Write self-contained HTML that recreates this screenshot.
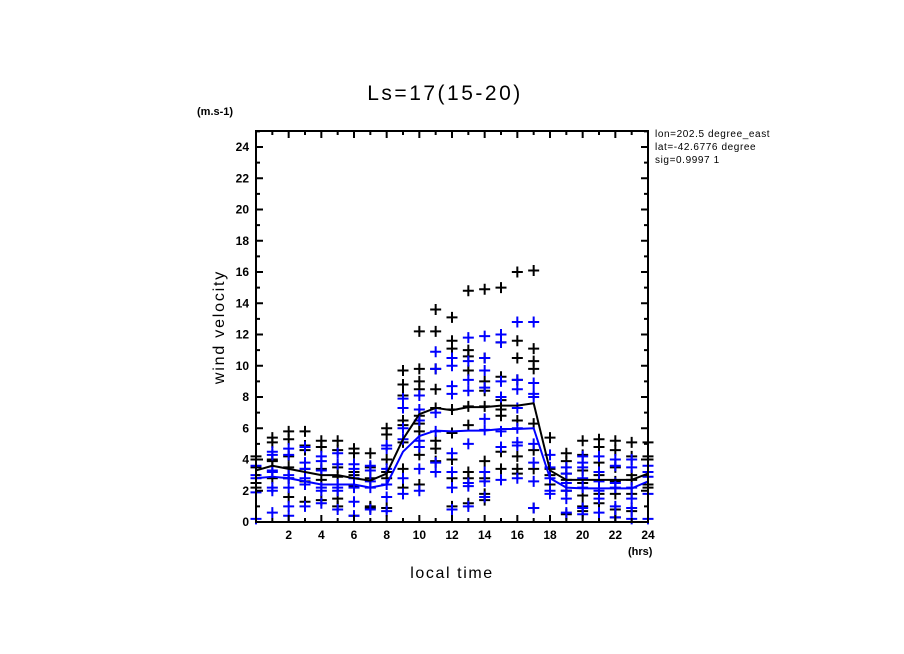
<!DOCTYPE html>
<html><head><meta charset="utf-8"><style>
html,body{margin:0;padding:0;background:#fff;}
svg{display:block;font-family:"Liberation Sans",sans-serif;}
</style></head><body>
<svg id="chart" width="904" height="654" viewBox="0 0 904 654" xmlns="http://www.w3.org/2000/svg">
<text x="445" y="100" font-size="21" letter-spacing="2.5" text-anchor="middle">Ls=17(15-20)</text>
<text x="197" y="115" font-size="11" font-weight="bold">(m.s-1)</text>
<text x="628" y="555" font-size="11" font-weight="bold">(hrs)</text>
<text x="452" y="578" font-size="16" letter-spacing="1.6" text-anchor="middle">local time</text>
<text x="224" y="327" font-size="16" letter-spacing="1.8" text-anchor="middle" transform="rotate(-90 224 327)">wind velocity</text>
<svg x="654" y="124" width="124" height="50" overflow="hidden">
<text x="1" y="13" font-size="10" letter-spacing="0.6">lon=202.5 degree_east</text>
<text x="1" y="26" font-size="10" letter-spacing="0.6">lat=-42.6776 degree</text>
<text x="1" y="39" font-size="10" letter-spacing="0.6">sig=0.9997 1</text>
</svg>
<g id="marks"></g>
<g id="axes"></g>
</svg>
<script>
const hours=[0,1,2,3,4,5,6,7,8,9,10,11,12,13,14,15,16,17,18,19,20,21,22,23,24];
const blackPts=[
[4.2,4.0,3.5,2.5,2.2],
[5.4,5.1,4.0,3.9,2.8],
[5.8,5.3,4.2,3.5,2.8,1.6],
[5.8,4.9,4.6,3.4,2.6,1.3],
[5.2,4.8,3.4,2.7,1.4],
[5.2,4.6,3.5,2.9,1.5,1.0],
[4.7,4.4,3.2,3.0,2.3,0.4],
[4.4,3.5,2.8,1.0,0.9],
[6.0,5.6,4.0,3.2,2.8,0.9],
[9.7,8.8,8.1,6.5,6.2,5.1,3.4,2.2],
[12.2,9.8,9.0,8.5,6.8,6.3,5.8,4.3,2.4],
[13.6,12.2,9.8,8.5,7.3,5.2,4.7,3.9],
[13.1,11.6,11.1,10.5,7.2,5.7,4.0,2.8,1.0],
[14.8,11.0,10.6,9.7,7.4,6.2,3.2,2.8,1.2],
[14.9,10.5,9.0,8.4,7.4,3.9,2.8,1.8,1.4],
[15.0,11.5,9.3,7.8,7.2,6.8,4.5,3.4],
[16.0,11.6,10.5,9.1,6.5,4.2,3.4,3.1],
[16.1,11.1,10.3,9.8,6.3,4.6,3.4,0.9],
[5.4,3.4,3.0,2.4,2.4],
[4.4,3.9,3.1,2.7,2.0,0.5],
[5.2,4.3,3.3,2.5,1.7,1.0,0.7],
[5.3,4.8,3.8,3.0,1.8,1.2],
[5.2,4.6,3.5,2.6,1.8,0.8,0.3],
[5.1,4.2,3.0,2.7,1.8,0.7],
[5.1,4.2,4.0,2.4,2.2]];
const bluePts=[
[3.6,3.0,2.8,1.9,0.2],
[4.5,4.3,3.3,3.2,2.2,2.0,0.6],
[4.7,4.3,3.0,2.8,2.2,1.0,0.4],
[4.8,3.8,3.4,2.8,2.4,1.0],
[4.2,3.9,3.3,2.2,2.0,1.2],
[4.4,3.7,2.4,2.2,2.0,0.8],
[3.7,3.4,2.8,2.2,1.3,0.4],
[3.6,3.3,2.6,2.2,0.8],
[4.9,4.7,3.4,2.4,1.6,0.7],
[7.9,7.3,6.0,5.3,2.8,1.8],
[8.1,7.2,6.5,5.2,4.8,3.4,2.0],
[10.9,9.8,7.0,5.8,3.8,3.2],
[10.5,10.0,8.7,8.2,4.4,3.2,2.2,0.8],
[11.8,10.3,9.1,8.4,5.0,2.5,2.3,1.0],
[11.9,10.5,9.7,8.6,6.6,5.9,3.2,2.6,1.6],
[12.0,11.5,9.0,8.0,5.8,4.8,2.7],
[12.8,9.1,8.5,7.3,6.0,5.1,4.9,2.8],
[12.8,8.9,8.2,8.0,5.0,3.8,2.6,0.9],
[4.3,3.5,2.8,2.0,1.8],
[3.5,3.1,2.5,2.0,1.5,0.6],
[4.2,3.8,3.5,2.8,2.2,0.9,0.5],
[4.2,3.2,2.6,2.0,1.5,0.6],
[4.0,3.6,2.5,2.2,1.0,0.3],
[4.0,3.5,2.2,1.5,0.9,0.2],
[3.6,3.2,2.9,1.8,0.2]];
const blackMean=[3.3,3.6,3.4,3.2,3.0,3.0,2.8,2.65,3.1,5.3,6.9,7.3,7.15,7.35,7.35,7.45,7.45,7.6,3.3,2.7,2.7,2.7,2.7,2.7,3.1];
const blueMean=[2.8,2.9,2.8,2.6,2.4,2.4,2.4,2.2,2.4,4.5,5.5,5.85,5.8,5.85,5.85,5.95,5.95,6.0,2.8,2.2,2.15,2.15,2.15,2.15,2.6];
const xTicks=[2,4,6,8,10,12,14,16,18,20,22,24];
const yTicks=[0,2,4,6,8,10,12,14,16,18,20,22,24];

const X0=256,X1=648,Y0=522,YT=131;
const xs=v=>X0+(v/24)*(X1-X0);
const ys=v=>Y0-v*15.625;
const NS='http://www.w3.org/2000/svg';
const marks=document.getElementById('marks'),axes=document.getElementById('axes');
function mk(tag,attrs,parent){const e=document.createElementNS(NS,tag);for(const k in attrs)e.setAttribute(k,attrs[k]);parent.appendChild(e);return e;}
function cross(x,y,col,name){
  const g=mk('path',{d:`M${x-5.5} ${y}H${x+5.5}M${x} ${y-5.5}V${y+5.5}`,stroke:col,'stroke-width':2,fill:'none'},marks);
  
  
}
hours.forEach((h,i)=>{
  blackPts[i].forEach(v=>cross(xs(h),ys(v),'#000','black-point'));
  bluePts[i].forEach(v=>cross(xs(h),ys(v),'#0000ff','blue-point'));
});
function line(vals,col,name){
  const p=mk('polyline',{points:hours.map((h,i)=>xs(h)+','+ys(vals[i])).join(' '),fill:'none',stroke:col,'stroke-width':2,'stroke-linejoin':'round'},marks);
  
  
}
line(blackMean,'#000','black-mean-line');
line(blueMean,'#0000ff','blue-mean-line');
const fr=mk('rect',{x:X0,y:YT,width:X1-X0,height:Y0-YT,fill:'none',stroke:'#000','stroke-width':2},axes);


for(let h=0;h<=24;h++){
  const len=h%2===0?7:4,x=xs(h);
  mk('line',{x1:x,x2:x,y1:Y0,y2:Y0-len,stroke:'#000','stroke-width':2},axes);
  mk('line',{x1:x,x2:x,y1:YT,y2:YT+len,stroke:'#000','stroke-width':2},axes);
}
for(let v=0;v<=25;v++){
  const len=v%2===0?7:4,y=ys(v);
  mk('line',{x1:X0,x2:X0+len,y1:y,y2:y,stroke:'#000','stroke-width':2},axes);
  mk('line',{x1:X1,x2:X1-len,y1:y,y2:y,stroke:'#000','stroke-width':2},axes);
}
xTicks.forEach(t=>{
  const e=mk('text',{x:xs(t),y:539,'font-size':12,'font-weight':'bold','text-anchor':'middle'},axes);
  e.textContent=t;
  
  
});
yTicks.forEach(t=>{
  const e=mk('text',{x:249,y:ys(t)+4,'font-size':12,'font-weight':'bold','text-anchor':'end'},axes);
  e.textContent=t;
  
  
});
</script>
</body></html>
